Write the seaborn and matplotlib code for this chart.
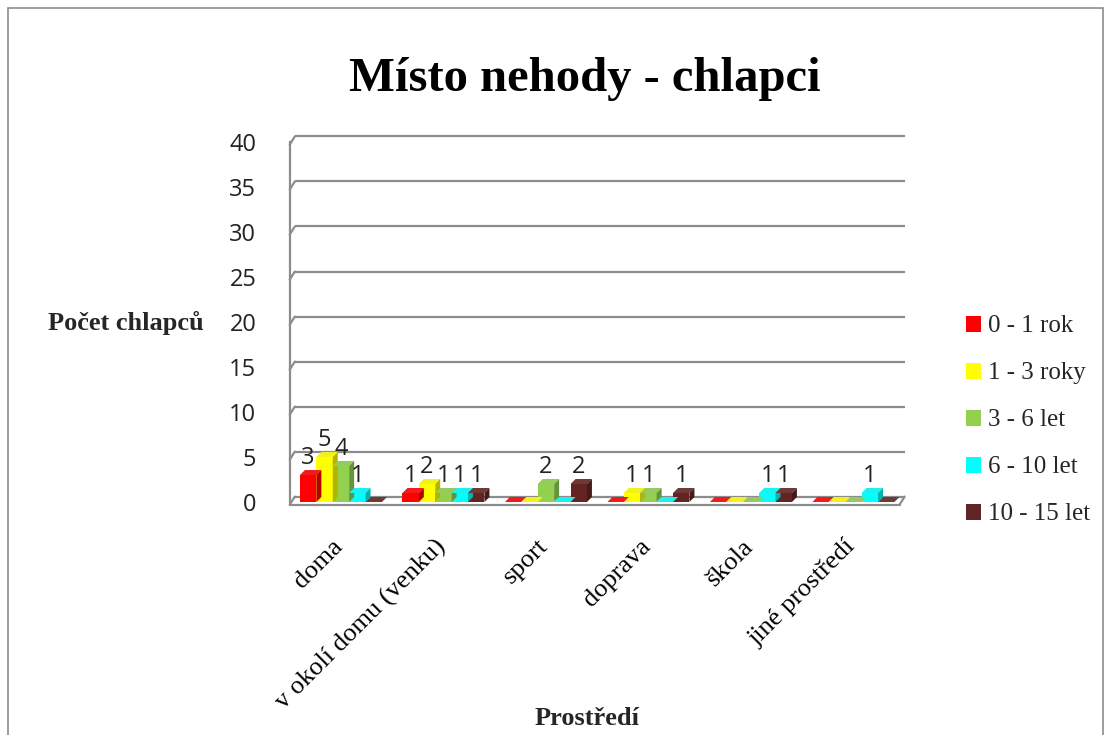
import matplotlib
matplotlib.use("Agg")
import matplotlib.pyplot as plt
import matplotlib.patches as mpatches
import matplotlib.transforms as mtransforms
import numpy as np
import pandas as pd
import seaborn as sns

# Data
categories = ["doma", "v okolí domu (venku)", "sport", "doprava", "škola", "jiné prostředí"]
age_groups = ["0 - 1 rok", "1 - 3 roky", "3 - 6 let", "6 - 10 let", "10 - 15 let"]
age_0_1 = [3, 1, 0, 0, 0, 0]
age_1_3 = [5, 2, 0, 1, 0, 0]
age_3_6 = [4, 1, 2, 1, 0, 0]
age_6_10 = [1, 1, 0, 0, 1, 1]
age_10_15 = [0, 1, 2, 1, 1, 0]
y_ticks = [0, 5, 10, 15, 20, 25, 30, 35, 40]

colors = ["#FF0000", "#FFFF00", "#92D050", "#00FFFF", "#632523"]

series = [age_0_1, age_1_3, age_3_6, age_6_10, age_10_15]
rows = []
for g, vals in zip(age_groups, series):
    for c, v in zip(categories, vals):
        rows.append({"Prostředí": c, "Věk": g, "Počet": v})
df = pd.DataFrame(rows)

sns.set_theme(style="white")
serif = ["Liberation Serif", "DejaVu Serif"]
sans = ["Open Sans", "DejaVu Sans"]
grid_col = "#8c8c8c"

fig = plt.figure(figsize=(11.1, 7.35), dpi=100)
ax = fig.add_axes([0.261, 0.317, 0.554, 0.490])

sns.barplot(data=df, x="Prostředí", y="Počet", hue="Věk", order=categories,
            hue_order=age_groups, palette=colors, width=0.8, ax=ax,
            legend=False, saturation=1, linewidth=0, errorbar=None)

ax.set_ylim(0, 40)
ax.set_yticks(y_ticks)
ax.set_xlim(-0.5, len(categories) - 0.5)

# Pseudo-3D depth for each bar: top face and side face
dx_px, dy_px = 5, 5
to_data = ax.transData.inverted()
fig.canvas.draw()
bars = [p for p in ax.patches if isinstance(p, mpatches.Rectangle)]
for p in bars:
    x0, y0 = p.get_x(), p.get_y()
    w, h = p.get_width(), p.get_height()
    fc = np.array(p.get_facecolor()[:3])
    ox0, oy0 = ax.transData.transform((x0, y0))
    ddx, ddy = to_data.transform((ox0 + dx_px, oy0 + dy_px)) - np.array([x0, y0])
    top = mpatches.Polygon([(x0, y0 + h), (x0 + w, y0 + h),
                            (x0 + w + ddx, y0 + h + ddy), (x0 + ddx, y0 + h + ddy)],
                           closed=True, facecolor=np.clip(fc * 0.85 + 0.1, 0, 1),
                           edgecolor="none", zorder=3, clip_on=False)
    side = mpatches.Polygon([(x0 + w, y0), (x0 + w + ddx, y0 + ddy),
                             (x0 + w + ddx, y0 + h + ddy), (x0 + w, y0 + h)],
                            closed=True, facecolor=fc * 0.7,
                            edgecolor="none", zorder=3, clip_on=False)
    ax.add_patch(top)
    ax.add_patch(side)
    p.set_zorder(3)

# Value labels for non-zero bars
for p in bars:
    h = p.get_height()
    if h > 0:
        ax.text(p.get_x() + p.get_width() / 2, h + 0.5, f"{int(h)}",
                ha="center", va="bottom", fontsize=17, family=sans, color="#222222", zorder=5)

# Gridlines on the back wall, with short perspective stubs at the left
for t in y_ticks:
    ax.plot([-0.45, len(categories) - 0.5], [t + 0.6, t + 0.6], color=grid_col, lw=1.6,
            zorder=1, clip_on=False, solid_capstyle="butt")
    ax.plot([-0.5, -0.45], [t - 0.3, t + 0.6], color=grid_col, lw=1.6, zorder=1, clip_on=False)

for s in ["top", "right", "bottom"]:
    ax.spines[s].set_visible(False)
ax.spines["left"].set_color(grid_col)
ax.spines["left"].set_linewidth(1.6)
# floor front edge
ax.plot([-0.5, len(categories) - 0.55], [-0.3, -0.3], color=grid_col, lw=1.6,
        zorder=2, clip_on=False)
ax.plot([len(categories) - 0.55, len(categories) - 0.5], [-0.3, 0.6], color=grid_col,
        lw=1.6, zorder=2, clip_on=False)

ax.tick_params(axis="y", length=0, pad=24, labelsize=17)
for lbl in ax.get_yticklabels():
    lbl.set_family(sans)
    lbl.set_color("#222222")
ax.tick_params(axis="x", length=0, pad=24)
ax.set_xticks(range(len(categories)))
ax.set_xticklabels(categories, rotation=45, ha="right", rotation_mode="anchor",
                   fontsize=19, family=serif, color="black")
shift = mtransforms.ScaledTranslation(-9 / 100, 0, fig.dpi_scale_trans)
for lbl in ax.get_xticklabels():
    lbl.set_transform(lbl.get_transform() + shift)

ax.set_xlabel("")
ax.set_ylabel("")
fig.text(0.529, 0.023, "Prostředí", fontsize=19, fontweight="bold", family=serif,
         ha="center", va="center")
fig.text(0.043, 0.561, "Počet chlapců", fontsize=19, fontweight="bold", family=serif,
         ha="left", va="center")

fig.text(0.527, 0.892, "Místo nehody - chlapci", fontsize=35, fontweight="bold",
         family=serif, ha="center", va="center", color="black")

handles = [mpatches.Patch(facecolor=c, edgecolor="none") for c in colors]
fig.legend(handles, age_groups, loc="center left", bbox_to_anchor=(0.870, 0.428),
           frameon=False, prop={"family": serif, "size": 18}, handlelength=0.6,
           handleheight=0.6, handletextpad=0.3, labelspacing=1.0, borderpad=0,
           borderaxespad=0)

# Chart border
fig.patches.append(mpatches.Rectangle((0.007, -0.01), 0.987, 0.999, transform=fig.transFigure,
                                      fill=False, edgecolor=grid_col, lw=1.2))

fig.savefig("out.png", dpi=100)
